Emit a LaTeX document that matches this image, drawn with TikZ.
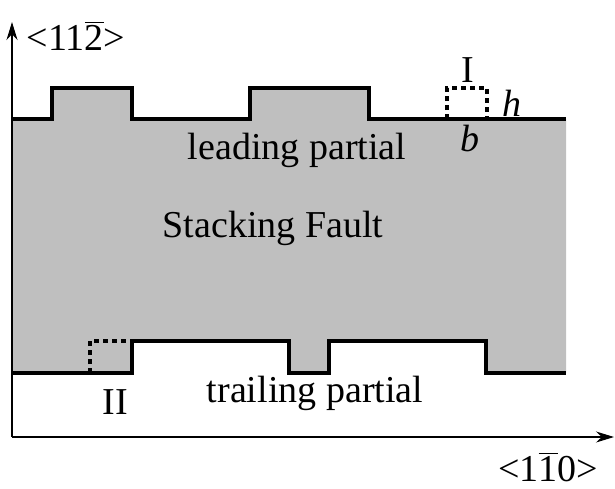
\documentclass[tikz,border=0pt]{standalone}
\usepackage{fontspec}
\setmainfont{Liberation Serif}
\usetikzlibrary{positioning,arrows.meta}

\newcommand{\barred}[1]{$\overline{\mbox{#1}}$}

\tikzset{
	axis/.style={line width=0.6pt,-{Stealth[length=9pt,width=5.5pt]}},
	partial/.style={line width=1.6pt,line join=miter},
	kink/.style={line width=1.6pt,dash pattern=on 2.5pt off 2pt},
	lbl/.style={inner sep=0pt,font=\fontsize{19}{22}\selectfont}
}

\begin{document}
\begin{tikzpicture}[x=0.5pt,y=-0.5pt]
	\useasboundingbox (0,0) rectangle (615,488);

	% Stacking fault between the two partials
	\fill[black!25] (12,119) -- (52,119) -- (52,88) -- (132,88) -- (132,119)
		-- (250,119) -- (250,88) -- (369,88) -- (369,119) -- (566,119)
		-- (566,373) -- (486,373) -- (486,341) -- (329,341) -- (329,373)
		-- (289,373) -- (289,341) -- (132,341) -- (132,373) -- (12,373) -- cycle;

	% leading partial
	\draw[partial] (12,119) -- (52,119) -- (52,88) -- (132,88) -- (132,119)
		-- (250,119) -- (250,88) -- (369,88) -- (369,119) -- (566,119);
	% trailing partial
	\draw[partial] (12,373) -- (132,373) -- (132,341) -- (289,341) -- (289,373)
		-- (329,373) -- (329,341) -- (486,341) -- (486,373) -- (566,373);

	% kinks
	\draw[kink] (447,119) -- (447,88) -- (487,88) -- (487,119);
	\draw[kink] (90,373) -- (90,341) -- (132,341);

	% axes
	\coordinate (o) at (12,437);
	\coordinate (ytip) at (12,22);
	\coordinate (xtip) at (614,437);
	\draw[axis] (o) -- (ytip);
	\draw[axis] (o) -- (xtip);

	\node[lbl] (ylbl) at (76,36) {<11\barred{2}>};
	\node[lbl] (xlbl) at (548,467) {<1\barred{1}0>};

	\node[lbl] (lead) at (297,150) {leading partial};
	\node[lbl] (sf) at (273,228) {Stacking Fault};
	\node[lbl] (trail) at (315,393) {trailing partial};

	\node[lbl] (one) at (468,70) {I};
	\node[lbl] (h) at (512,103) {\itshape h};
	\node[lbl] (b) at (470,138) {\itshape b};
	\node[lbl] (two) at (115,402) {II};
\end{tikzpicture}
\end{document}
